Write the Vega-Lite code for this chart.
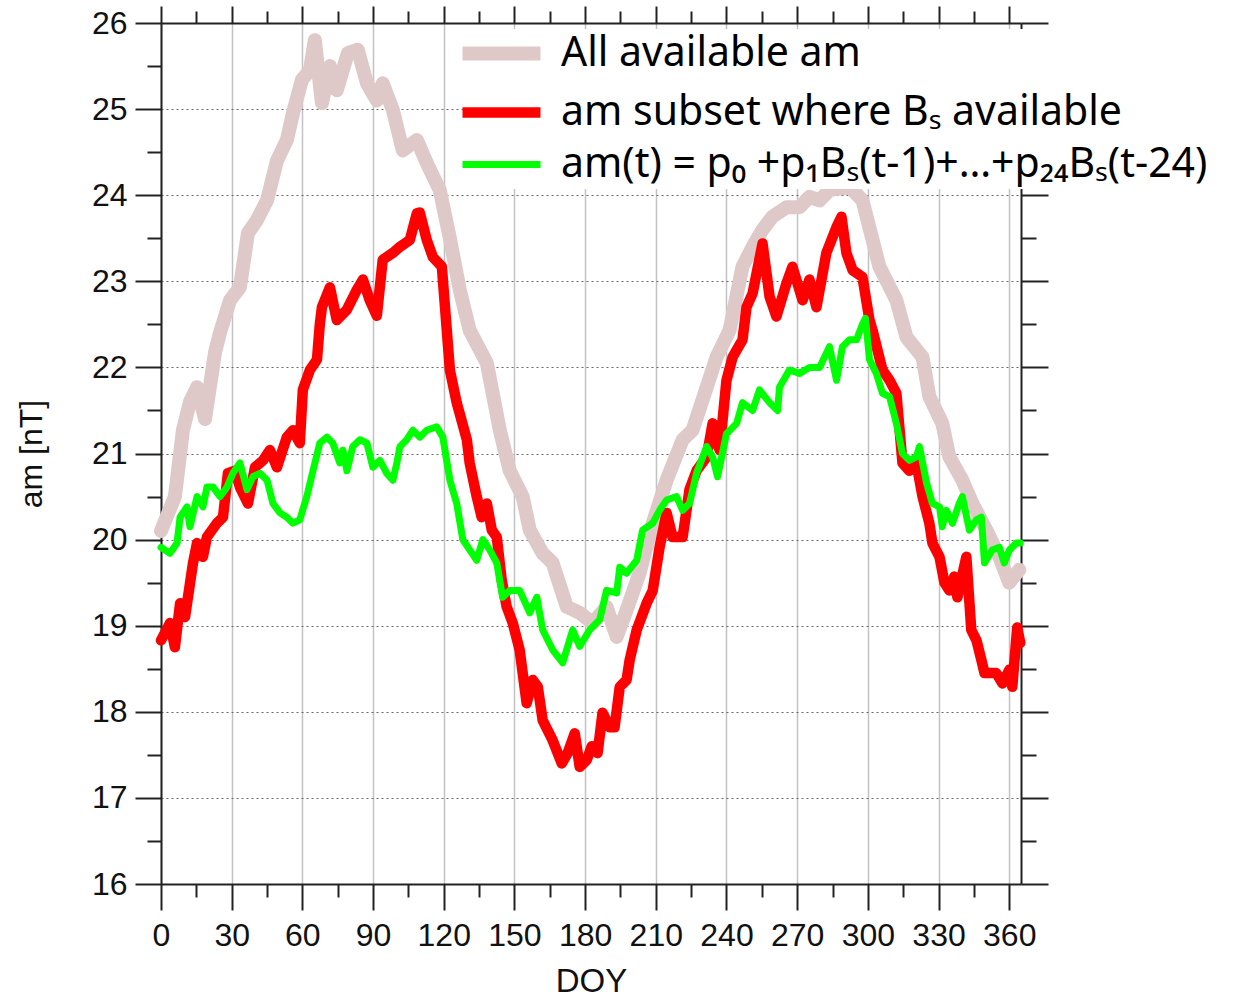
{
  "$schema": "https://vega.github.io/schema/vega-lite/v6.json",
  "width": 860,
  "height": 861,
  "autosize": {"type": "none"},
  "padding": {"left": 161, "top": 23, "right": 221, "bottom": 113},
  "background": "white",
  "config": {"view": {"stroke": null}, "font": "Liberation Sans"},
  "datasets": {
    "series": [
      {"d":0,"v":20.1,"s":"A"},{"d":5.9,"v":20.5,"s":"A"},{"d":9.3,"v":21.27,"s":"A"},{"d":12.3,"v":21.6,"s":"A"},{"d":15.3,"v":21.77,"s":"A"},{"d":18.7,"v":21.4,"s":"A"},{"d":22.9,"v":22.17,"s":"A"},{"d":25,"v":22.4,"s":"A"},{"d":29.3,"v":22.78,"s":"A"},{"d":33.5,"v":22.93,"s":"A"},{"d":36.9,"v":23.56,"s":"A"},{"d":40.7,"v":23.71,"s":"A"},{"d":45,"v":23.94,"s":"A"},{"d":49.2,"v":24.4,"s":"A"},{"d":53.4,"v":24.64,"s":"A"},{"d":56,"v":24.95,"s":"A"},{"d":59.8,"v":25.34,"s":"A"},{"d":63.2,"v":25.45,"s":"A"},{"d":65.3,"v":25.8,"s":"A"},{"d":68.3,"v":25.07,"s":"A"},{"d":71.7,"v":25.5,"s":"A"},{"d":74.6,"v":25.22,"s":"A"},{"d":79.3,"v":25.65,"s":"A"},{"d":83.5,"v":25.69,"s":"A"},{"d":87.4,"v":25.3,"s":"A"},{"d":91.6,"v":25.1,"s":"A"},{"d":94.1,"v":25.3,"s":"A"},{"d":98.4,"v":24.99,"s":"A"},{"d":102.6,"v":24.52,"s":"A"},{"d":108.6,"v":24.64,"s":"A"},{"d":113.2,"v":24.35,"s":"A"},{"d":118.3,"v":24.06,"s":"A"},{"d":122.6,"v":23.5,"s":"A"},{"d":126.8,"v":22.9,"s":"A"},{"d":131,"v":22.43,"s":"A"},{"d":138.3,"v":22.05,"s":"A"},{"d":143.8,"v":21.27,"s":"A"},{"d":148,"v":20.8,"s":"A"},{"d":153.5,"v":20.5,"s":"A"},{"d":156.5,"v":20.11,"s":"A"},{"d":162,"v":19.84,"s":"A"},{"d":166.2,"v":19.73,"s":"A"},{"d":172.2,"v":19.22,"s":"A"},{"d":177.7,"v":19.15,"s":"A"},{"d":183.2,"v":19.03,"s":"A"},{"d":189.1,"v":19.22,"s":"A"},{"d":193.4,"v":18.87,"s":"A"},{"d":197.6,"v":19.18,"s":"A"},{"d":203.1,"v":19.61,"s":"A"},{"d":208.7,"v":20.19,"s":"A"},{"d":214.6,"v":20.69,"s":"A"},{"d":221.4,"v":21.16,"s":"A"},{"d":225.6,"v":21.27,"s":"A"},{"d":231.6,"v":21.77,"s":"A"},{"d":235.8,"v":22.12,"s":"A"},{"d":241.3,"v":22.43,"s":"A"},{"d":246.8,"v":23.17,"s":"A"},{"d":251.1,"v":23.4,"s":"A"},{"d":255.3,"v":23.6,"s":"A"},{"d":259.5,"v":23.75,"s":"A"},{"d":265.5,"v":23.86,"s":"A"},{"d":271,"v":23.86,"s":"A"},{"d":275.2,"v":23.98,"s":"A"},{"d":279.5,"v":23.94,"s":"A"},{"d":283.7,"v":24.06,"s":"A"},{"d":292.2,"v":24.1,"s":"A"},{"d":297.7,"v":23.94,"s":"A"},{"d":304.9,"v":23.17,"s":"A"},{"d":312.1,"v":22.78,"s":"A"},{"d":316.4,"v":22.35,"s":"A"},{"d":323.2,"v":22.12,"s":"A"},{"d":326.1,"v":21.66,"s":"A"},{"d":331.6,"v":21.35,"s":"A"},{"d":334.6,"v":20.96,"s":"A"},{"d":340.1,"v":20.69,"s":"A"},{"d":344.4,"v":20.42,"s":"A"},{"d":350.3,"v":20.11,"s":"A"},{"d":355.8,"v":19.8,"s":"A"},{"d":360,"v":19.5,"s":"A"},{"d":364.3,"v":19.65,"s":"A"},
      {"d":0,"v":18.83,"s":"B"},{"d":3.8,"v":19.03,"s":"B"},{"d":5.9,"v":18.75,"s":"B"},{"d":8.1,"v":19.26,"s":"B"},{"d":10.2,"v":19.1,"s":"B"},{"d":13.6,"v":19.73,"s":"B"},{"d":15.3,"v":19.96,"s":"B"},{"d":17.8,"v":19.8,"s":"B"},{"d":19.5,"v":20.03,"s":"B"},{"d":23.7,"v":20.19,"s":"B"},{"d":26.3,"v":20.26,"s":"B"},{"d":28.4,"v":20.77,"s":"B"},{"d":31.4,"v":20.8,"s":"B"},{"d":33.5,"v":20.61,"s":"B"},{"d":36.9,"v":20.42,"s":"B"},{"d":39.9,"v":20.84,"s":"B"},{"d":43.3,"v":20.92,"s":"B"},{"d":46.2,"v":21.04,"s":"B"},{"d":49.2,"v":20.84,"s":"B"},{"d":53.4,"v":21.19,"s":"B"},{"d":56,"v":21.27,"s":"B"},{"d":58.9,"v":21.12,"s":"B"},{"d":60.2,"v":21.74,"s":"B"},{"d":63.2,"v":21.97,"s":"B"},{"d":66.2,"v":22.09,"s":"B"},{"d":67.4,"v":22.5,"s":"B"},{"d":68.3,"v":22.7,"s":"B"},{"d":71.7,"v":22.93,"s":"B"},{"d":74.6,"v":22.55,"s":"B"},{"d":78.9,"v":22.67,"s":"B"},{"d":83.1,"v":22.9,"s":"B"},{"d":85.7,"v":23.02,"s":"B"},{"d":88.6,"v":22.78,"s":"B"},{"d":91.6,"v":22.6,"s":"B"},{"d":94.1,"v":23.25,"s":"B"},{"d":98.4,"v":23.33,"s":"B"},{"d":101.4,"v":23.4,"s":"B"},{"d":105.6,"v":23.48,"s":"B"},{"d":108.6,"v":23.79,"s":"B"},{"d":109.8,"v":23.8,"s":"B"},{"d":112.8,"v":23.48,"s":"B"},{"d":115.4,"v":23.28,"s":"B"},{"d":119.2,"v":23.17,"s":"B"},{"d":121.3,"v":22.43,"s":"B"},{"d":122.6,"v":21.97,"s":"B"},{"d":125.5,"v":21.59,"s":"B"},{"d":129.8,"v":21.16,"s":"B"},{"d":131,"v":20.89,"s":"B"},{"d":134,"v":20.5,"s":"B"},{"d":136.1,"v":20.26,"s":"B"},{"d":138.3,"v":20.42,"s":"B"},{"d":140.4,"v":20.11,"s":"B"},{"d":142.5,"v":20.03,"s":"B"},{"d":144.6,"v":19.53,"s":"B"},{"d":146.7,"v":19.22,"s":"B"},{"d":149.3,"v":19.03,"s":"B"},{"d":152.2,"v":18.72,"s":"B"},{"d":155.2,"v":18.1,"s":"B"},{"d":157.8,"v":18.37,"s":"B"},{"d":159.9,"v":18.29,"s":"B"},{"d":162,"v":17.9,"s":"B"},{"d":166.2,"v":17.67,"s":"B"},{"d":170.1,"v":17.4,"s":"B"},{"d":172.6,"v":17.52,"s":"B"},{"d":175.6,"v":17.75,"s":"B"},{"d":177.7,"v":17.36,"s":"B"},{"d":180.7,"v":17.44,"s":"B"},{"d":182.8,"v":17.6,"s":"B"},{"d":185.3,"v":17.52,"s":"B"},{"d":187.4,"v":17.99,"s":"B"},{"d":190.4,"v":17.82,"s":"B"},{"d":192.5,"v":17.82,"s":"B"},{"d":194.7,"v":18.29,"s":"B"},{"d":197.6,"v":18.37,"s":"B"},{"d":198.9,"v":18.6,"s":"B"},{"d":201.9,"v":18.95,"s":"B"},{"d":206.1,"v":19.26,"s":"B"},{"d":208.7,"v":19.41,"s":"B"},{"d":211.6,"v":19.91,"s":"B"},{"d":214.6,"v":20.31,"s":"B"},{"d":217.1,"v":20.03,"s":"B"},{"d":221.4,"v":20.03,"s":"B"},{"d":224.3,"v":20.58,"s":"B"},{"d":227.3,"v":20.8,"s":"B"},{"d":231.6,"v":20.96,"s":"B"},{"d":234.1,"v":21.35,"s":"B"},{"d":237.1,"v":21.04,"s":"B"},{"d":240,"v":21.85,"s":"B"},{"d":242.6,"v":22.12,"s":"B"},{"d":246.8,"v":22.32,"s":"B"},{"d":248.5,"v":22.7,"s":"B"},{"d":251.1,"v":22.86,"s":"B"},{"d":255.3,"v":23.44,"s":"B"},{"d":258.3,"v":22.82,"s":"B"},{"d":261.2,"v":22.59,"s":"B"},{"d":265.5,"v":22.98,"s":"B"},{"d":268,"v":23.17,"s":"B"},{"d":272.3,"v":22.78,"s":"B"},{"d":275.2,"v":23.02,"s":"B"},{"d":278.2,"v":22.7,"s":"B"},{"d":282.4,"v":23.33,"s":"B"},{"d":286.7,"v":23.63,"s":"B"},{"d":288.8,"v":23.75,"s":"B"},{"d":290.9,"v":23.33,"s":"B"},{"d":293.5,"v":23.13,"s":"B"},{"d":297.7,"v":23.05,"s":"B"},{"d":300.7,"v":22.55,"s":"B"},{"d":302,"v":22.43,"s":"B"},{"d":306.2,"v":21.97,"s":"B"},{"d":309.2,"v":21.85,"s":"B"},{"d":312.1,"v":21.7,"s":"B"},{"d":314.7,"v":20.89,"s":"B"},{"d":317.6,"v":20.8,"s":"B"},{"d":320.6,"v":20.89,"s":"B"},{"d":323.2,"v":20.5,"s":"B"},{"d":326.1,"v":20.19,"s":"B"},{"d":327.4,"v":19.96,"s":"B"},{"d":330.4,"v":19.8,"s":"B"},{"d":332.5,"v":19.5,"s":"B"},{"d":334.6,"v":19.41,"s":"B"},{"d":336.7,"v":19.57,"s":"B"},{"d":338,"v":19.33,"s":"B"},{"d":341.8,"v":19.8,"s":"B"},{"d":343.9,"v":18.95,"s":"B"},{"d":346.1,"v":18.83,"s":"B"},{"d":348.2,"v":18.6,"s":"B"},{"d":349.5,"v":18.45,"s":"B"},{"d":351.6,"v":18.45,"s":"B"},{"d":354.5,"v":18.45,"s":"B"},{"d":357.1,"v":18.33,"s":"B"},{"d":360.1,"v":18.49,"s":"B"},{"d":361.3,"v":18.29,"s":"B"},{"d":363.4,"v":18.98,"s":"B"},{"d":364.7,"v":18.8,"s":"B"},
      {"d":0,"v":19.91,"s":"C"},{"d":3.8,"v":19.84,"s":"C"},{"d":6.8,"v":19.96,"s":"C"},{"d":8.1,"v":20.26,"s":"C"},{"d":11,"v":20.38,"s":"C"},{"d":12.3,"v":20.15,"s":"C"},{"d":15.3,"v":20.5,"s":"C"},{"d":17.8,"v":20.38,"s":"C"},{"d":19.5,"v":20.61,"s":"C"},{"d":22.1,"v":20.61,"s":"C"},{"d":25,"v":20.5,"s":"C"},{"d":28,"v":20.61,"s":"C"},{"d":30.5,"v":20.77,"s":"C"},{"d":33.5,"v":20.89,"s":"C"},{"d":36.5,"v":20.58,"s":"C"},{"d":39,"v":20.73,"s":"C"},{"d":42,"v":20.77,"s":"C"},{"d":45,"v":20.69,"s":"C"},{"d":47.5,"v":20.42,"s":"C"},{"d":50.5,"v":20.31,"s":"C"},{"d":53.4,"v":20.26,"s":"C"},{"d":56,"v":20.19,"s":"C"},{"d":58.9,"v":20.23,"s":"C"},{"d":61.9,"v":20.5,"s":"C"},{"d":64.5,"v":20.8,"s":"C"},{"d":67.4,"v":21.12,"s":"C"},{"d":70.4,"v":21.19,"s":"C"},{"d":72.9,"v":21.12,"s":"C"},{"d":75.9,"v":20.89,"s":"C"},{"d":77.2,"v":21.04,"s":"C"},{"d":78.9,"v":20.8,"s":"C"},{"d":81.4,"v":21.08,"s":"C"},{"d":84.4,"v":21.16,"s":"C"},{"d":87.4,"v":21.12,"s":"C"},{"d":89.9,"v":20.84,"s":"C"},{"d":92.9,"v":20.92,"s":"C"},{"d":95.8,"v":20.77,"s":"C"},{"d":98.4,"v":20.69,"s":"C"},{"d":100.1,"v":20.89,"s":"C"},{"d":101.4,"v":21.08,"s":"C"},{"d":104.3,"v":21.16,"s":"C"},{"d":106.9,"v":21.27,"s":"C"},{"d":109.8,"v":21.19,"s":"C"},{"d":112.8,"v":21.27,"s":"C"},{"d":117,"v":21.31,"s":"C"},{"d":119.6,"v":21.19,"s":"C"},{"d":122.6,"v":20.69,"s":"C"},{"d":125.5,"v":20.42,"s":"C"},{"d":128.1,"v":20,"s":"C"},{"d":131,"v":19.88,"s":"C"},{"d":134,"v":19.76,"s":"C"},{"d":136.6,"v":20,"s":"C"},{"d":139.5,"v":19.88,"s":"C"},{"d":142.5,"v":19.73,"s":"C"},{"d":145,"v":19.33,"s":"C"},{"d":148,"v":19.41,"s":"C"},{"d":152.2,"v":19.41,"s":"C"},{"d":156.5,"v":19.15,"s":"C"},{"d":159.5,"v":19.33,"s":"C"},{"d":162,"v":18.95,"s":"C"},{"d":166.2,"v":18.72,"s":"C"},{"d":170.5,"v":18.57,"s":"C"},{"d":174.7,"v":18.95,"s":"C"},{"d":177.7,"v":18.76,"s":"C"},{"d":181.9,"v":18.95,"s":"C"},{"d":186.2,"v":19.07,"s":"C"},{"d":189.1,"v":19.41,"s":"C"},{"d":193.4,"v":19.38,"s":"C"},{"d":194.7,"v":19.68,"s":"C"},{"d":197.6,"v":19.61,"s":"C"},{"d":201.9,"v":19.76,"s":"C"},{"d":204.4,"v":20.11,"s":"C"},{"d":208.7,"v":20.19,"s":"C"},{"d":211.6,"v":20.34,"s":"C"},{"d":214.6,"v":20.46,"s":"C"},{"d":218.8,"v":20.5,"s":"C"},{"d":221.4,"v":20.34,"s":"C"},{"d":224.3,"v":20.42,"s":"C"},{"d":227.3,"v":20.77,"s":"C"},{"d":231.6,"v":21.08,"s":"C"},{"d":234.1,"v":20.96,"s":"C"},{"d":236.2,"v":20.73,"s":"C"},{"d":240,"v":21.23,"s":"C"},{"d":244.3,"v":21.35,"s":"C"},{"d":246.8,"v":21.59,"s":"C"},{"d":251.1,"v":21.5,"s":"C"},{"d":254,"v":21.74,"s":"C"},{"d":258.3,"v":21.59,"s":"C"},{"d":261.7,"v":21.5,"s":"C"},{"d":262.5,"v":21.77,"s":"C"},{"d":266.7,"v":21.97,"s":"C"},{"d":271,"v":21.93,"s":"C"},{"d":275.2,"v":22,"s":"C"},{"d":279.5,"v":22,"s":"C"},{"d":283.7,"v":22.24,"s":"C"},{"d":286.7,"v":21.85,"s":"C"},{"d":289.2,"v":22.24,"s":"C"},{"d":292.2,"v":22.32,"s":"C"},{"d":295.2,"v":22.32,"s":"C"},{"d":297.7,"v":22.5,"s":"C"},{"d":299,"v":22.57,"s":"C"},{"d":300.7,"v":22.09,"s":"C"},{"d":303.6,"v":21.93,"s":"C"},{"d":306.2,"v":21.7,"s":"C"},{"d":309.2,"v":21.66,"s":"C"},{"d":312.1,"v":21.35,"s":"C"},{"d":314.7,"v":21,"s":"C"},{"d":317.6,"v":20.92,"s":"C"},{"d":320.6,"v":20.96,"s":"C"},{"d":321.9,"v":21.08,"s":"C"},{"d":324.9,"v":20.66,"s":"C"},{"d":327.4,"v":20.42,"s":"C"},{"d":330.4,"v":20.38,"s":"C"},{"d":331.6,"v":20.15,"s":"C"},{"d":333.3,"v":20.34,"s":"C"},{"d":335.9,"v":20.19,"s":"C"},{"d":338.8,"v":20.42,"s":"C"},{"d":340.1,"v":20.5,"s":"C"},{"d":343.1,"v":20.11,"s":"C"},{"d":346.1,"v":20.23,"s":"C"},{"d":348.2,"v":20.26,"s":"C"},{"d":349.5,"v":19.73,"s":"C"},{"d":352.8,"v":19.88,"s":"C"},{"d":355.8,"v":19.91,"s":"C"},{"d":357.9,"v":19.73,"s":"C"},{"d":360.1,"v":19.88,"s":"C"},{"d":363,"v":19.96,"s":"C"},{"d":364.7,"v":19.96,"s":"C"}
    ]
  },
  "data": {"name": "series"},
  "resolve": {"axis": {"x": "independent", "y": "independent"}},
  "layer": [
    {
      "mark": {"type": "line", "strokeJoin": "round", "strokeCap": "round"},
      "encoding": {
        "x": {
          "field": "d", "type": "quantitative",
          "scale": {"domain": [0, 365], "nice": false, "zero": false},
          "axis": {
            "orient": "bottom", "title": "DOY",
            "values": [0,15,30,45,60,75,90,105,120,135,150,165,180,195,210,225,240,255,270,285,300,315,330,345,360],
            "format": "d",
            "labelExpr": "datum.value % 30 === 0 ? datum.label : ''",
            "tickSize": {"condition": {"test": "datum.value % 30 === 0", "value": 26}, "value": 13},
            "tickColor": "#222", "tickWidth": 2, "domainColor": "#222", "domainWidth": 2,
            "grid": true, "gridColor": "#c2c2c2", "gridWidth": 1.5,
            "gridOpacity": {"condition": {"test": "datum.value % 30 === 0", "value": 1}, "value": 0},
            "labelFont": "Liberation Sans", "labelFontSize": 32, "labelColor": "#111", "labelPadding": 10,
            "labelFlush": false, "labelOverlap": false,
            "titleFont": "Liberation Sans", "titleFontSize": 33, "titleFontWeight": "normal", "titleColor": "#111", "titlePadding": 14
          }
        },
        "y": {
          "field": "v", "type": "quantitative",
          "scale": {"domain": [16, 26], "nice": false, "zero": false},
          "axis": {
            "orient": "left", "title": "am [nT]",
            "values": [16,16.5,17,17.5,18,18.5,19,19.5,20,20.5,21,21.5,22,22.5,23,23.5,24,24.5,25,25.5,26],
            "format": ".0f",
            "labelExpr": "datum.value % 1 === 0 ? datum.label : ''",
            "tickSize": {"condition": {"test": "datum.value % 1 === 0", "value": 26}, "value": 14},
            "tickColor": "#222", "tickWidth": 2, "domainColor": "#222", "domainWidth": 2,
            "grid": true, "gridColor": "#666", "gridWidth": 1, "gridDash": [2, 3],
            "gridOpacity": {"condition": {"test": "datum.value % 1 === 0", "value": 1}, "value": 0},
            "labelFont": "Liberation Sans", "labelFontSize": 32, "labelColor": "#111", "labelPadding": 8,
            "labelOverlap": false, "labelFlush": false,
            "titleFont": "Liberation Sans", "titleFontSize": 32, "titleFontWeight": "normal", "titleColor": "#111", "titlePadding": 43
          }
        },
        "color": {
          "field": "s", "type": "nominal",
          "scale": {"domain": ["A", "B", "C"], "range": ["#dfc8c8", "#ff0000", "#00ff00"]},
          "legend": {
            "orient": "none", "legendX": 316, "legendY": 6, "title": null,
            "labelExpr": "datum.value === 'A' ? 'All available am' : datum.value === 'B' ? 'am subset where Bₛ available' : 'am(t) = p₀ +p₁Bₛ(t-1)+…+p₂₄Bₛ(t-24)'",
            "symbolType": "M-4,0L4,0", "symbolSize": 380, "symbolStrokeWidth": 10,
            "labelFont": "Noto Sans", "labelFontSize": 41, "labelColor": "#000", "labelLimit": 900,
            "labelOffset": 39, "labelBaseline": "middle", "rowPadding": 9,
            "fillColor": "white", "padding": 4
          }
        },
        "strokeWidth": {
          "field": "s", "type": "nominal",
          "scale": {"domain": ["A", "B", "C"], "range": [14, 7, 7]},
          "legend": null
        }
      }
    },
    {
      "mark": {"type": "line", "opacity": 0},
      "encoding": {
        "x": {
          "field": "d", "type": "quantitative",
          "axis": {
            "orient": "top", "title": null, "labels": false, "grid": false,
            "values": [0,15,30,45,60,75,90,105,120,135,150,165,180,195,210,225,240,255,270,285,300,315,330,345,360],
            "tickSize": {"condition": {"test": "datum.value % 30 === 0", "value": 17}, "value": 12},
            "tickColor": "#222", "tickWidth": 2, "domainColor": "#222", "domainWidth": 2
          }
        },
        "y": {
          "field": "v", "type": "quantitative",
          "axis": {
            "orient": "right", "title": null, "labels": false, "grid": false,
            "values": [16,16.5,17,17.5,18,18.5,19,19.5,20,20.5,21,21.5,22,22.5,23,23.5,24,24.5,25,25.5,26],
            "tickSize": {"condition": {"test": "datum.value % 1 === 0", "value": 27}, "value": 15},
            "tickColor": "#222", "tickWidth": 2, "domainColor": "#222", "domainWidth": 2
          }
        },
        "detail": {"field": "s", "type": "nominal"}
      }
    }
  ]
}
